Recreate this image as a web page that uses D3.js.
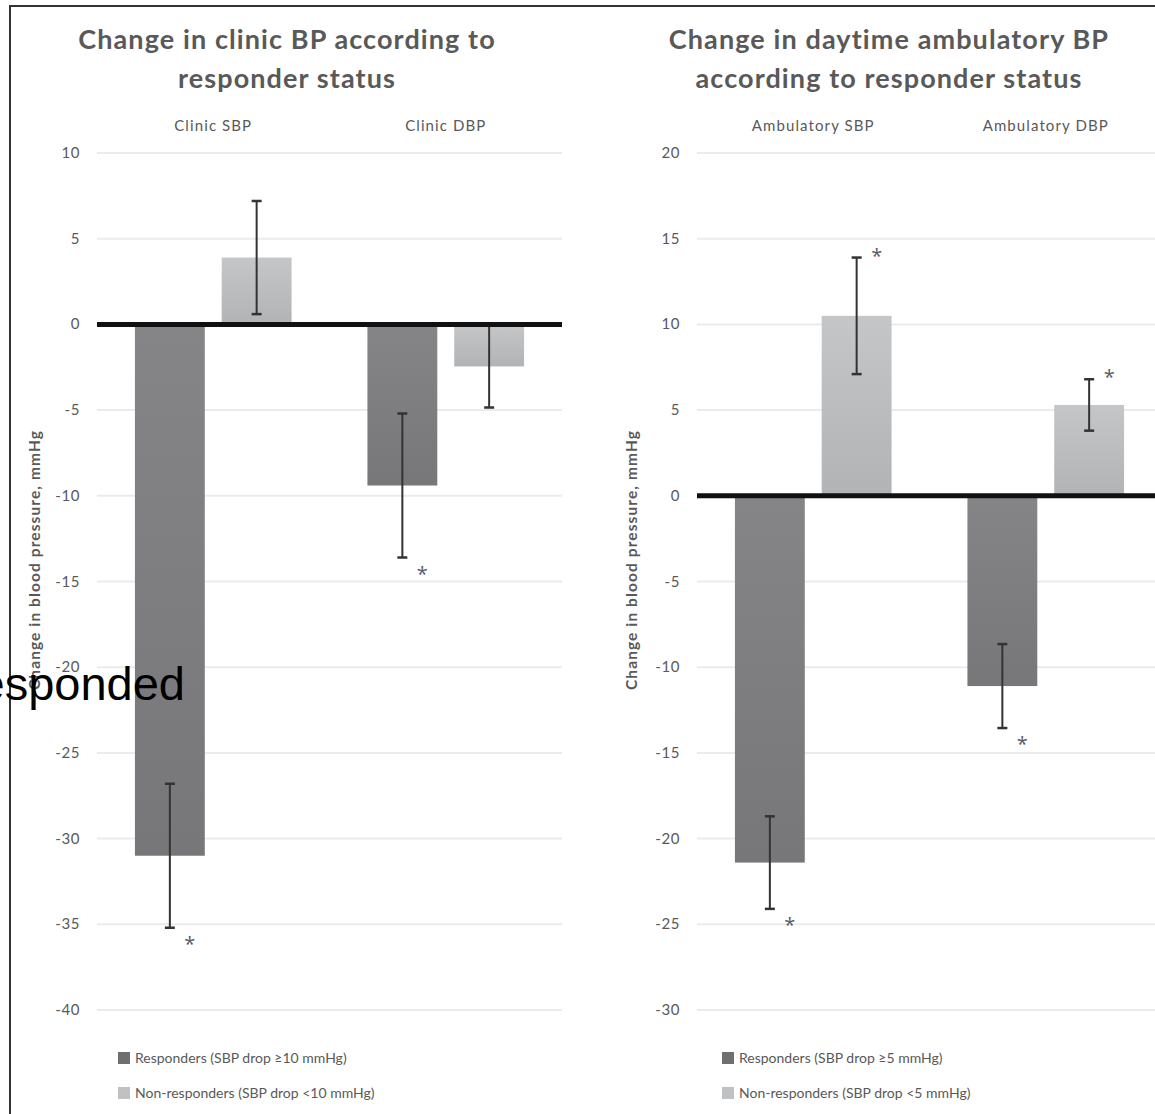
<!DOCTYPE html>
<html><head><meta charset="utf-8">
<script src="https://cdn.jsdelivr.net/npm/d3@7"></script>
<style>body{margin:0;background:#fff;} svg{display:block;}</style>
</head><body>
<svg id="chart" width="1155" height="1114"></svg>
<script>
// ---- Data ----
const clinicCategories = ["Clinic SBP", "Clinic DBP"];
const clinicResponders = [-31.0, -9.4];
const clinicRespondersErr = [4.2, 4.2];
const clinicNonResponders = [3.9, -2.45];
const clinicNonRespondersErr = [3.3, 2.4];
const clinicRespondersStar = [true, true];
const clinicNonRespondersStar = [false, false];
const clinicTicks = [10, 5, 0, -5, -10, -15, -20, -25, -30, -35, -40];

const ambCategories = ["Ambulatory SBP", "Ambulatory DBP"];
const ambResponders = [-21.4, -11.1];
const ambRespondersErr = [2.7, 2.45];
const ambNonResponders = [10.5, 5.3];
const ambNonRespondersErr = [3.4, 1.5];
const ambRespondersStar = [true, true];
const ambNonRespondersStar = [true, true];
const ambTicks = [20, 15, 10, 5, 0, -5, -10, -15, -20, -25, -30];

const clinicTitle = ["Change in clinic BP according to", "responder status"];
const ambTitle = ["Change in daytime ambulatory BP", "according to responder status"];
const clinicLegend = ["Responders (SBP drop \u226510 mmHg)", "Non-responders (SBP drop <10 mmHg)"];
const ambLegend = ["Responders (SBP drop \u22655 mmHg)", "Non-responders (SBP drop <5 mmHg)"];
const yLabel = "Change in blood pressure, mmHg";
const strayText = "Responded";

// ---- Drawing ----
const svg = d3.select("#chart");
const textColor = "#595959";
const font = "Lato, 'Open Sans', sans-serif";

const defs = svg.append("defs");
function grad(id, c1, c2) {
  const g = defs.append("linearGradient").attr("id", id).attr("x1", 0).attr("y1", 0).attr("x2", 0).attr("y2", 1);
  g.append("stop").attr("offset", "0%").attr("stop-color", c1);
  g.append("stop").attr("offset", "100%").attr("stop-color", c2);
}
grad("gResp", "#858587", "#77777a");
grad("gNon", "#c5c6c8", "#b2b3b5");
const fills = ["url(#gResp)", "url(#gNon)"];
const legendFills = ["#6f6f71", "#c0c1c3"];

// outer frame
svg.append("path").attr("d", "M10,1114 L10,6 L1155,6").attr("fill", "none").attr("stroke", "#333").attr("stroke-width", 2);

function drawPanel(p) {
  const g = svg.append("g");
  const y = d3.scaleLinear().domain(p.domain).range([1010, 153]);
  const x0 = d3.scaleBand().domain(p.categories).range(p.xRange).padding(0);
  const series = ["resp", "non"];
  const x1 = d3.scaleBand().domain(series).range([0, x0.bandwidth()]).paddingInner(0.195).paddingOuter(0.437);

  // gridlines
  g.selectAll(".grid").data(p.ticks).join("line")
    .attr("x1", p.xRange[0]).attr("x2", p.xRange[1])
    .attr("y1", d => y(d)).attr("y2", d => y(d))
    .attr("stroke", "#ebebeb").attr("stroke-width", 2);

  // tick labels
  g.selectAll(".tick").data(p.ticks).join("text")
    .attr("x", p.xRange[0] - 17).attr("y", d => y(d) + 5)
    .attr("text-anchor", "end").attr("font-family", font).attr("font-size", 15)
    .attr("letter-spacing", 0.6)
    .attr("fill", textColor).text(d => d);

  // category labels
  g.selectAll(".cat").data(p.categories).join("text")
    .attr("x", d => x0(d) + x0.bandwidth() / 2).attr("y", 131)
    .attr("text-anchor", "middle").attr("font-family", font).attr("font-size", 15)
    .attr("letter-spacing", 1.1)
    .attr("fill", textColor).text(d => d);

  // title
  g.selectAll(".title").data(p.title).join("text")
    .attr("x", p.titleX).attr("y", (d, i) => 49 + i * 39)
    .attr("text-anchor", "middle").attr("font-family", font).attr("font-weight", "bold")
    .attr("font-size", 27).attr("letter-spacing", 1.1).attr("fill", textColor).text(d => d);

  // y label
  g.append("text").attr("transform", `translate(${p.yLabelX},560) rotate(-90)`)
    .attr("text-anchor", "middle").attr("font-family", font).attr("font-weight", "bold")
    .attr("font-size", 15.5).attr("letter-spacing", 1.1).attr("fill", textColor).text(yLabel);

  const rows = [];
  p.categories.forEach((c, i) => {
    rows.push({cat: c, s: "resp", k: 0, v: p.resp[i], e: p.respErr[i], star: p.respStar[i]});
    rows.push({cat: c, s: "non", k: 1, v: p.non[i], e: p.nonErr[i], star: p.nonStar[i]});
  });
  const cx = d => x0(d.cat) + x1(d.s) + x1.bandwidth() / 2;

  // bars
  g.selectAll(".bar").data(rows).join("rect")
    .attr("x", d => x0(d.cat) + x1(d.s)).attr("width", x1.bandwidth())
    .attr("y", d => y(Math.max(0, d.v))).attr("height", d => Math.abs(y(d.v) - y(0)))
    .attr("fill", d => fills[d.k]);

  // error bars
  const eb = g.selectAll(".eb").data(rows).join("g");
  eb.append("line").attr("x1", cx).attr("x2", cx)
    .attr("y1", d => y(d.v + d.e)).attr("y2", d => y(d.v - d.e))
    .attr("stroke", "#333").attr("stroke-width", 2);
  eb.append("line").attr("x1", d => cx(d) - 5).attr("x2", d => cx(d) + 5)
    .attr("y1", d => y(d.v + d.e)).attr("y2", d => y(d.v + d.e))
    .attr("stroke", "#333").attr("stroke-width", 2.5);
  eb.append("line").attr("x1", d => cx(d) - 5).attr("x2", d => cx(d) + 5)
    .attr("y1", d => y(d.v - d.e)).attr("y2", d => y(d.v - d.e))
    .attr("stroke", "#333").attr("stroke-width", 2.5);

  // zero line
  g.append("line").attr("x1", p.xRange[0]).attr("x2", p.xRange[1])
    .attr("y1", y(0)).attr("y2", y(0)).attr("stroke", "#111").attr("stroke-width", 5);

  // asterisks (glyph centre ~12px above baseline at 20px)
  g.selectAll(".star").data(rows.filter(d => d.star)).join("text")
    .attr("x", d => cx(d) + 20)
    .attr("y", d => (d.v >= 0 ? y(d.v + d.e) - 7 : y(d.v - d.e) + 11) + 12)
    .attr("text-anchor", "middle").attr("font-family", "'Open Sans', sans-serif").attr("font-size", 20)
    .attr("fill", "#5a5a66").text("*");

  // legend
  const lg = g.selectAll(".lg").data(p.legend).join("g")
    .attr("transform", (d, i) => `translate(${p.legendX},${1052 + i * 35})`);
  lg.append("rect").attr("width", 12).attr("height", 12).attr("fill", (d, i) => legendFills[i]);
  lg.append("text").attr("x", 17).attr("y", 11).attr("font-family", font).attr("font-size", 14)
    .attr("fill", textColor).text(d => d);
}

drawPanel({categories: clinicCategories, domain: [-40, 10], xRange: [97, 562], ticks: clinicTicks,
  resp: clinicResponders, respErr: clinicRespondersErr, non: clinicNonResponders, nonErr: clinicNonRespondersErr,
  respStar: clinicRespondersStar, nonStar: clinicNonRespondersStar,
  title: clinicTitle, titleX: 287, yLabelX: 40, legend: clinicLegend, legendX: 118});

drawPanel({categories: ambCategories, domain: [-30, 20], xRange: [697, 1162], ticks: ambTicks,
  resp: ambResponders, respErr: ambRespondersErr, non: ambNonResponders, nonErr: ambNonRespondersErr,
  respStar: ambRespondersStar, nonStar: ambNonRespondersStar,
  title: ambTitle, titleX: 889, yLabelX: 637, legend: ambLegend, legendX: 722});

// stray overlay text
svg.append("text").attr("x", 185).attr("y", 700).attr("text-anchor", "end")
  .attr("font-family", "'Liberation Sans', Arial, sans-serif").attr("font-size", 47)
  .attr("fill", "#000").text(strayText);
</script>
</body></html>
